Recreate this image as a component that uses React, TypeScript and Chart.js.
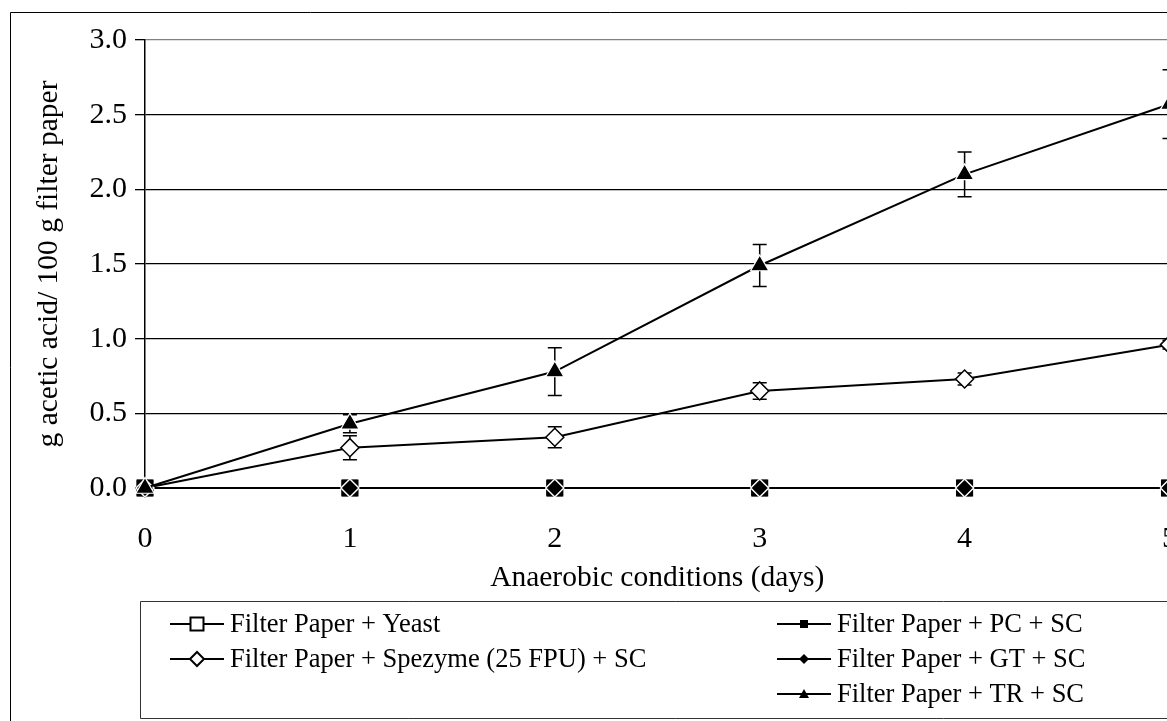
import React, { useEffect, useRef } from "react";
import { Chart, registerables } from "chart.js";

Chart.register(...registerables);

const days = [0, 1, 2, 3, 4, 5];
const yeast = [0, 0, 0, 0, 0, 0];
const spezyme = [0, 0.27, 0.34, 0.65, 0.73, 0.96];
const spezymeErr = [0, 0.08, 0.07, 0.055, 0.04, 0.03];
const pcSc = [0, 0, 0, 0, 0, 0];
const gtSc = [0, 0, 0, 0, 0, 0];
const trSc = [0, 0.43, 0.78, 1.49, 2.1, 2.57];
const trErr = [0, 0.06, 0.16, 0.14, 0.15, 0.23];
const seriesLabels = [
  "Filter Paper + Yeast",
  "Filter Paper + Spezyme (25 FPU) + SC",
  "Filter Paper + PC + SC",
  "Filter Paper + GT + SC",
  "Filter Paper + TR + SC",
];
const xTitle = "Anaerobic conditions (days)";
const yTitle = "g acetic acid/ 100 g filter paper";

const FONT = '"Liberation Serif", "Times New Roman", serif';
const CW = 1210;
const CH = 721;

const errorBars: Record<number, { vals: number[]; errs: number[] }> = {
  1: { vals: spezyme, errs: spezymeErr },
  4: { vals: trSc, errs: trErr },
};

const errorBarPlugin = {
  id: "errorBars",
  beforeDatasetsDraw(chart: any) {
    const ctx = chart.ctx;
    const xs = chart.scales.x;
    const ys = chart.scales.y;
    ctx.save();
    ctx.strokeStyle = "#000";
    ctx.lineWidth = 1.5;
    Object.keys(errorBars).forEach((k) => {
      const { vals, errs } = errorBars[Number(k)];
      vals.forEach((v, i) => {
        const e = errs[i];
        if (!e) return;
        const x = xs.getPixelForValue(days[i]);
        const yTop = ys.getPixelForValue(v + e);
        const yBot = ys.getPixelForValue(v - e);
        ctx.beginPath();
        ctx.moveTo(x, yTop);
        ctx.lineTo(x, yBot);
        ctx.moveTo(x - 7, yTop);
        ctx.lineTo(x + 7, yTop);
        ctx.moveTo(x - 7, yBot);
        ctx.lineTo(x + 7, yBot);
        ctx.stroke();
      });
    });
    ctx.restore();
  },
};

function legendMarker(ctx: CanvasRenderingContext2D, kind: number, x: number, y: number) {
  ctx.save();
  ctx.lineWidth = 2;
  ctx.strokeStyle = "#000";
  ctx.fillStyle = "#000";
  ctx.beginPath();
  if (kind === 0) {
    ctx.rect(x - 6.5, y - 6.5, 13, 13);
    ctx.fillStyle = "#fff";
    ctx.fill();
    ctx.stroke();
  } else if (kind === 1) {
    ctx.moveTo(x - 7, y);
    ctx.lineTo(x, y - 7);
    ctx.lineTo(x + 7, y);
    ctx.lineTo(x, y + 7);
    ctx.closePath();
    ctx.fillStyle = "#fff";
    ctx.fill();
    ctx.stroke();
  } else if (kind === 2) {
    ctx.rect(x - 4, y - 4, 8, 8);
    ctx.fill();
  } else if (kind === 3) {
    ctx.moveTo(x - 5, y);
    ctx.lineTo(x, y - 5);
    ctx.lineTo(x + 5, y);
    ctx.lineTo(x, y + 5);
    ctx.closePath();
    ctx.fill();
  } else {
    ctx.moveTo(x, y - 5);
    ctx.lineTo(x + 5, y + 4);
    ctx.lineTo(x - 5, y + 4);
    ctx.closePath();
    ctx.fill();
  }
  ctx.restore();
}

const framePlugin = {
  id: "frameAndLegend",
  afterDraw(chart: any) {
    const ctx = chart.ctx;
    ctx.save();
    ctx.strokeStyle = "#000";
    ctx.lineWidth = 1;
    ctx.beginPath();
    ctx.moveTo(10.5, CH + 5);
    ctx.lineTo(10.5, 12.5);
    ctx.lineTo(CW + 5, 12.5);
    ctx.stroke();
    ctx.strokeStyle = "#333";
    ctx.beginPath();
    ctx.rect(140.5, 601.5, CW, 117);
    ctx.stroke();

    const entries = [
      { ds: 0, x0: 170, row: 0 },
      { ds: 1, x0: 170, row: 1 },
      { ds: 2, x0: 777, row: 0 },
      { ds: 3, x0: 777, row: 1 },
      { ds: 4, x0: 777, row: 2 },
    ];
    const rows = [624, 659, 694];
    ctx.font = "26.5px " + FONT;
    ctx.textBaseline = "middle";
    ctx.textAlign = "left";
    entries.forEach((e) => {
      const y = rows[e.row];
      ctx.strokeStyle = "#000";
      ctx.lineWidth = 2;
      ctx.beginPath();
      ctx.moveTo(e.x0, y);
      ctx.lineTo(e.x0 + 54, y);
      ctx.stroke();
      legendMarker(ctx, e.ds, e.x0 + 27, y);
      ctx.fillStyle = "#000";
      ctx.fillText(chart.data.datasets[e.ds].label, e.x0 + 60, y + 1);
    });
    ctx.restore();
  },
};

export default function App() {
  const ref = useRef<HTMLCanvasElement | null>(null);

  useEffect(() => {
    document.body.style.margin = "0";
    const canvas = ref.current;
    if (!canvas) return;
    const mk = (v: number[]) => days.map((d, i) => ({ x: d, y: v[i] }));
    const chart = new Chart(canvas, {
      type: "line",
      data: {
        datasets: [
          { label: seriesLabels[0], data: mk(yeast), order: 3, borderColor: "#000", borderWidth: 2, pointStyle: "rect", pointRadius: 11, pointBackgroundColor: "#fff", pointBorderColor: "#000", pointBorderWidth: 1.5, clip: false },
          { label: seriesLabels[1], data: mk(spezyme), order: 4, borderColor: "#000", borderWidth: 2, pointStyle: "rectRot", pointRadius: 9, pointBackgroundColor: "#fff", pointBorderColor: "#000", pointBorderWidth: 1.5, clip: false },
          { label: seriesLabels[2], data: mk(pcSc), order: 2, borderColor: "#000", borderWidth: 2, pointStyle: "rect", pointRadius: 11, pointBackgroundColor: "#000", pointBorderColor: "#000", pointBorderWidth: 1, clip: false },
          { label: seriesLabels[3], data: mk(gtSc), order: 1, borderColor: "#000", borderWidth: 2, pointStyle: "rectRot", pointRadius: 9, pointBackgroundColor: "#000", pointBorderColor: "#fff", pointBorderWidth: 1.5, clip: false },
          { label: seriesLabels[4], data: mk(trSc), order: 0, borderColor: "#000", borderWidth: 2, pointStyle: "triangle", pointRadius: 10.5, pointBackgroundColor: "#000", pointBorderColor: "#fff", pointBorderWidth: 1.2, clip: false },
        ],
      },
      options: {
        responsive: false,
        animation: false,
        layout: { padding: { left: 0, top: 40, right: 10, bottom: 0 } },
        plugins: {
          legend: { display: false },
          tooltip: { enabled: false },
        },
        elements: { line: { tension: 0 } },
        scales: {
          x: {
            type: "linear",
            min: 0,
            max: 5,
            afterFit: (s: any) => {
              s.height = CH - 488;
            },
            ticks: {
              stepSize: 1,
              color: "#000",
              font: { family: FONT, size: 30 },
              padding: 33,
              maxRotation: 0,
            },
            grid: { display: false, drawTicks: false },
            border: { display: true, color: "#000", width: 1 },
            title: {
              display: true,
              text: xTitle,
              color: "#000",
              font: { family: FONT, size: 29.5 },
              padding: { top: 0, bottom: 125 },
            },
          },
          y: {
            type: "linear",
            min: 0,
            max: 3,
            afterFit: (s: any) => {
              s.width = 145;
            },
            ticks: {
              stepSize: 0.5,
              color: "#000",
              font: { family: FONT, size: 30 },
              padding: 8,
              callback: (v: any) => Number(v).toFixed(1),
            },
            grid: {
              color: (c: any) => (c.tick && c.tick.value === 3 ? "#808080" : "#000"),
              lineWidth: 1.3,
              tickColor: "#000",
              tickLength: 10,
              drawTicks: true,
            },
            border: { display: true, color: "#000", width: 1.5 },
            title: {
              display: true,
              text: yTitle,
              color: "#000",
              font: { family: FONT, size: 29.5 },
              padding: { top: 32, bottom: 0 },
            },
          },
        },
      },
      plugins: [errorBarPlugin, framePlugin],
    } as any);
    return () => chart.destroy();
  }, []);

  return (
    <div style={{ width: 1167, height: 721, overflow: "hidden", position: "relative", background: "#fff" }}>
      <canvas ref={ref} width={CW} height={CH} style={{ display: "block", width: CW, height: CH }} />
    </div>
  );
}
